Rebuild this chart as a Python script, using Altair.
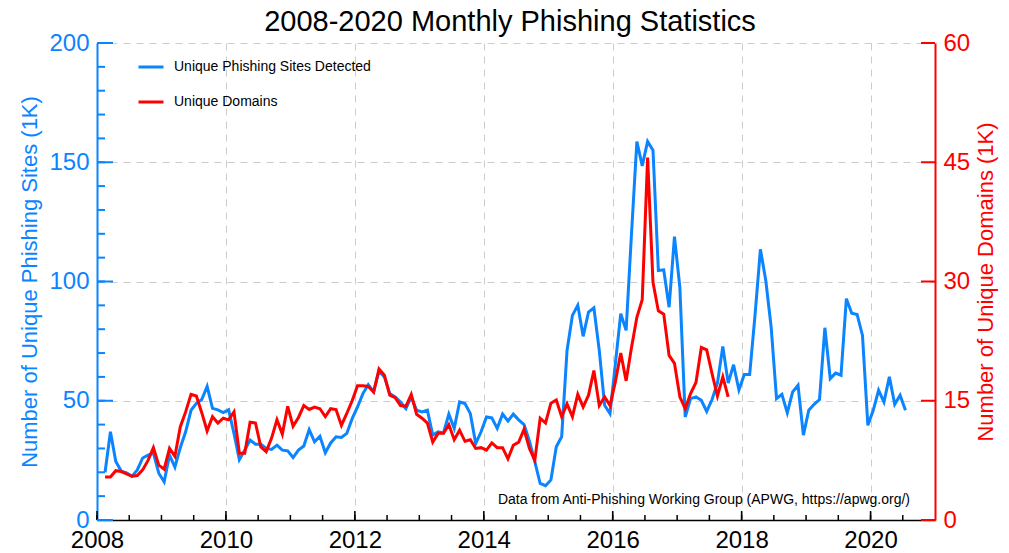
import altair as alt
import pandas as pd

BLUE = "#0a84ff"
RED = "#ff0000"
FONT = "Liberation Sans"

# Monthly values, Feb 2008 onwards (thousands)
sites = [
    20, 37, 24.5, 20.5, 19.8, 18.3, 21, 26, 27.2, 28, 19.6,            # 2008 Feb-Dec
    16, 27.2, 22.2, 30.3, 37, 46, 48.9, 50.5, 56, 46.8, 46.2, 45,      # 2009
    46.2, 36.3, 25.3, 29.3, 33.5, 31.8, 31.8, 30, 29.6, 31.4, 29.3, 29,  # 2010
    26.2, 29.3, 31, 37.9, 32.8, 35.1, 28.2, 32.3, 34.9, 34.6, 36.3, 42.5,  # 2011
    47.4, 53, 56.7, 53.7, 62.5, 60, 53, 51.6, 49.5, 46.7, 51.6, 46,    # 2012
    45.3, 46, 35.6, 37, 36.5, 44.4, 38.4, 49.5, 48.8, 44.6, 32.1, 37,  # 2013
    43.2, 42.8, 38.4, 44.4, 41.5, 44.4, 42, 40, 33, 24.5, 15.3, 14.4,  # 2014
    16.8, 30.7, 34.9, 71.1, 85.8, 90, 77, 87.2, 89, 71.1, 48.1, 44.6,  # 2015
    65.6, 86.5, 79.5, 120, 158.7, 148.5, 158.7, 155.1, 104.6, 104.9, 89.2, 118.8,  # 2016
    97.6, 43.2, 50.9, 51.6, 50.2, 45.5, 50.5, 57.5, 72.8, 57.4, 65.1, 54.5,  # 2017
    61, 61, 86, 113.5, 100.4, 80.9, 50.9, 52.7, 44.9, 53.7, 56.5, 35.6,  # 2018
    46, 48.5, 50.5, 80.6, 59.3, 61.6, 60.7, 92.8, 86.7, 86.2, 77.4, 39.7,  # 2019
    46, 54.4, 49.5, 60, 48.5, 52.3, 46,                                 # 2020 Jan-Jul
]

domains = [
    5.4, 5.4, 6.2, 6.1, 5.8, 5.5, 5.6, 6.3, 7.5, 9.1, 6.9,              # 2008 Feb-Dec
    6.4, 9.0, 8.0, 11.7, 13.6, 15.8, 15.6, 13.5, 11.2, 13.0, 12.2, 12.8,  # 2009
    12.6, 13.6, 8.4, 8.4, 12.3, 12.2, 9.2, 8.6, 10.3, 12.6, 10.8, 14.3,  # 2010
    11.8, 12.9, 14.4, 13.9, 14.2, 14.0, 13.0, 14.0, 13.9, 11.9, 13.4, 15.0,  # 2011
    16.9, 16.9, 16.8, 16.1, 19.0, 18.2, 15.7, 15.4, 14.4, 14.3, 15.8, 13.3,  # 2012
    12.8, 12.2, 9.8, 10.9, 10.9, 12.0, 10.1, 11.3, 9.9, 10.1, 9.0, 9.1,  # 2013
    8.8, 9.7, 9.1, 9.1, 7.7, 9.4, 9.8, 11.4, 9.0, 7.5, 12.8, 12.2,      # 2014
    14.7, 15.1, 13.0, 14.6, 13.0, 15.8, 14.2, 15.7, 18.8, 14.4, 15.5, 14.4,  # 2015
    17.4, 21.0, 17.5, 21.7, 25.5, 27.7, 45.6, 29.9, 26.3, 25.9, 20.7, 19.7,  # 2016
    15.5, 14.0, 15.9, 17.3, 21.7, 21.4, 18.4, 15.6, 18.0, 15.5,          # 2017 Jan-Oct
]

series_names = ["Unique Phishing Sites Detected", "Unique Domains"]
x_major = [2008, 2010, 2012, 2014, 2016, 2018, 2020]
x_minor = [2008 + 0.5 * k for k in range(26)]
left_major = [0, 50, 100, 150, 200]
left_minor = [v for v in range(0, 201, 10)]
right_major = [0, 15, 30, 45, 60]
title_text = "2008-2020 Monthly Phishing Statistics"
note = "Data from Anti-Phishing Working Group (APWG, https://apwg.org/)"


def month_times(n, start_month=2):
    out = []
    for i in range(n):
        m = start_month - 1 + i
        out.append(2008 + m // 12 + ((m % 12) + 0.5) / 12)
    return out


df_sites = pd.DataFrame({"t": month_times(len(sites)), "v": sites, "series": series_names[0]})
df_dom = pd.DataFrame({"t": month_times(len(domains)), "v": domains, "series": series_names[1]})

W, H = 838, 477

xscale = alt.Scale(domain=[2008, 2021], nice=False, zero=False)
xaxis = alt.Axis(
    values=x_major, format="d", grid=True, gridDash=[7, 6], gridColor="#cccccc",
    gridWidth=1, ticks=False, domainColor="black", domainWidth=1.5,
    labelFontSize=24, labelPadding=8, labelColor="black", title=None, labelFont=FONT,
    labelFlush=False,
)
X = alt.X("t:Q", scale=xscale, axis=xaxis)

color = alt.Color(
    "series:N",
    scale=alt.Scale(domain=series_names, range=[BLUE, RED]),
    legend=alt.Legend(
        title=None, orient="none", legendX=40, legendY=10, symbolType="stroke",
        symbolStrokeWidth=3, symbolSize=625, labelFontSize=14, labelFont=FONT,
        labelOffset=9, rowPadding=14, padding=0, labelColor="black", labelLimit=0,
    ),
)

blue_line = alt.Chart(df_sites).mark_line(strokeWidth=3, color=BLUE).encode(
    x=X,
    y=alt.Y(
        "v:Q",
        scale=alt.Scale(domain=[0, 200], nice=False),
        axis=alt.Axis(
            orient="left", values=left_major, grid=True, gridDash=[7, 6],
            gridColor="#cccccc", ticks=False, domainColor=BLUE, domainWidth=2,
            labelColor=BLUE, labelFontSize=24, labelPadding=8, labelFont=FONT,
            labelFlush=False,
            title="Number of Unique Phishing Sites (1K)", titleColor=BLUE,
            titleFontSize=22, titleFontWeight="normal", titleFont=FONT,
            titleX=-68, titleY=H / 2, titleAngle=270, titleAlign="center",
            titleBaseline="middle",
        ),
    ),
    color=color,
)

red_line = alt.Chart(df_dom).mark_line(strokeWidth=3, color=RED).encode(
    x=X,
    y=alt.Y(
        "v:Q",
        scale=alt.Scale(domain=[0, 60], nice=False),
        axis=alt.Axis(
            orient="right", values=right_major, grid=False, ticks=False,
            domainColor=RED, domainWidth=2, labelColor=RED, labelFontSize=24,
            labelPadding=8, labelFont=FONT, labelFlush=False,
            title="Number of Unique Domains (1K)", titleColor=RED, titleFontSize=22,
            titleFontWeight="normal", titleFont=FONT, titleAngle=270,
            titleX=50, titleY=H / 2, titleAlign="center", titleBaseline="middle",
        ),
    ),
    color=color,
)

df_xmaj = pd.DataFrame({"t": x_major})
df_xmin = pd.DataFrame({"t": x_minor})
x_tick_major = alt.Chart(df_xmaj).mark_rule(color="black", strokeWidth=1.5).encode(
    x=X, y=alt.value(H), y2=alt.value(H - 9)
)
x_tick_minor = alt.Chart(df_xmin).mark_rule(color="black", strokeWidth=1.5).encode(
    x=X, y=alt.value(H), y2=alt.value(H - 5)
)

df_lmaj = pd.DataFrame({"v": left_major})
df_lmin = pd.DataFrame({"v": left_minor})
lscale = alt.Scale(domain=[0, 200], nice=False)
l_tick_major = alt.Chart(df_lmaj).mark_rule(color=BLUE, strokeWidth=2).encode(
    y=alt.Y("v:Q", scale=lscale, axis=None), x=alt.value(0), x2=alt.value(16)
)
l_tick_minor = alt.Chart(df_lmin).mark_rule(color=BLUE, strokeWidth=2).encode(
    y=alt.Y("v:Q", scale=lscale, axis=None), x=alt.value(0), x2=alt.value(8)
)
df_rmaj = pd.DataFrame({"v": right_major})
r_tick_major = alt.Chart(df_rmaj).mark_rule(color=RED, strokeWidth=2).encode(
    y=alt.Y("v:Q", scale=alt.Scale(domain=[0, 60], nice=False), axis=None),
    x=alt.value(W - 14), x2=alt.value(W),
)

df_note = pd.DataFrame({"txt": [note]})
note_text = alt.Chart(df_note).mark_text(
    align="right", baseline="alphabetic", fontSize=14, font=FONT, color="black"
).encode(text="txt:N", x=alt.value(W - 25), y=alt.value(H - 16))

df_title = pd.DataFrame({"txt": [title_text]})
title_mark = alt.Chart(df_title).mark_text(
    align="center", baseline="alphabetic", fontSize=29, font=FONT, color="black"
).encode(text="txt:N", x=alt.value(W / 2 - 6), y=alt.value(-12))

chart = (
    alt.layer(
        blue_line, red_line, x_tick_major, x_tick_minor,
        l_tick_major, l_tick_minor, r_tick_major, note_text, title_mark,
    )
    .resolve_scale(y="independent")
    .properties(
        width=W, height=H,
        autosize=alt.AutoSizeParams(type="none"),
        padding={"left": 97, "top": 43, "right": 74, "bottom": 33},
        background="white",
    )
    .configure_view(stroke=None)
)

chart.save("out.html", embed_options={"renderer": "svg", "actions": False})
